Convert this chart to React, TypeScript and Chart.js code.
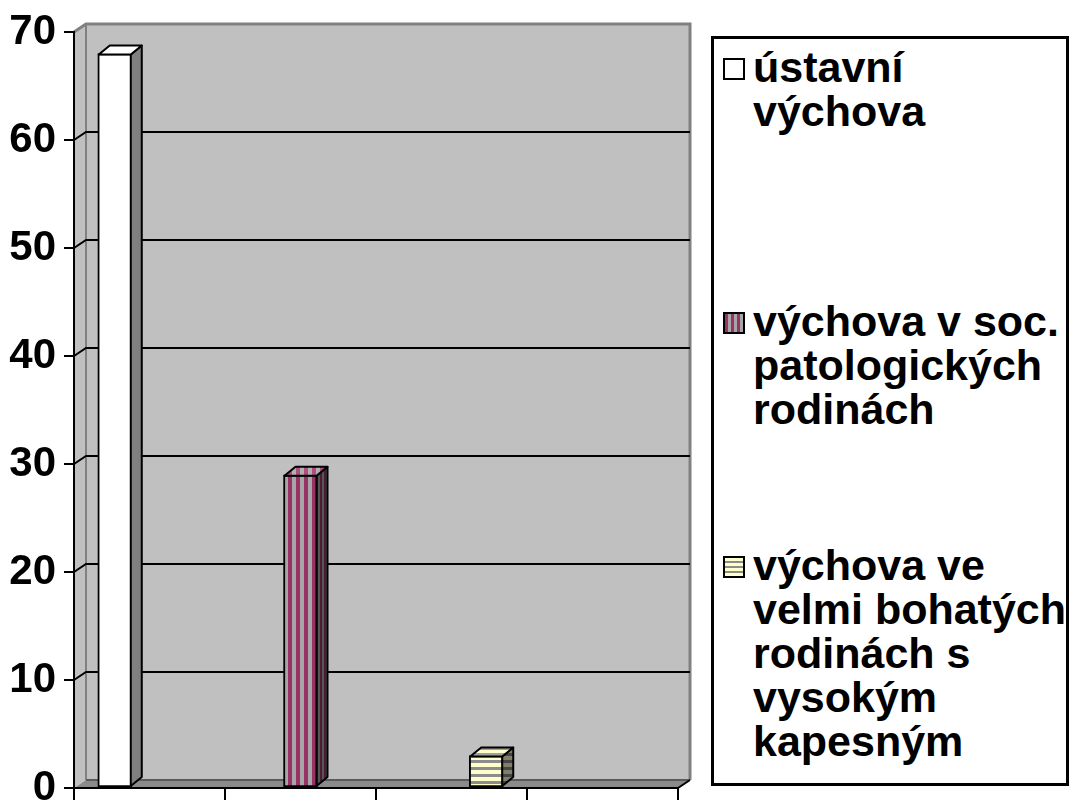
import React, { useEffect, useRef } from "react";
import { Chart, registerables } from "chart.js";

Chart.register(...registerables);

// ---- data ----
const seriesNames = [
  "ústavní výchova",
  "výchova v soc. patologických rodinách",
  "výchova ve velmi bohatých rodinách s vysokým kapesným",
];
const legendLines = [
  ["ústavní", "výchova"],
  ["výchova v soc.", "patologických", "rodinách"],
  ["výchova ve", "velmi bohatých", "rodinách s", "vysokým", "kapesným"],
];
const seriesValues = [68, 29, 3];
const seriesPositions = [0.27, 1.5, 2.73];
const yTickValues = [0, 10, 20, 30, 40, 50, 60, 70];
const xBoundaries = [0, 1, 2, 3, 4];

// ---- styling constants ----
const WALL_DX = 12;
const WALL_DY = 8;
const BAR_DX = 11;
const BAR_DY = 9;
const FONT = '"Liberation Sans", Arial, Helvetica, sans-serif';

function stripePattern(vertical: boolean, c1: string, c2: string, a: number, b: number) {
  const size = a + b;
  const cv = document.createElement("canvas");
  cv.width = vertical ? size : 1;
  cv.height = vertical ? 1 : size;
  const c = cv.getContext("2d")!;
  c.fillStyle = c1;
  if (vertical) c.fillRect(0, 0, a, 1);
  else c.fillRect(0, 0, 1, a);
  c.fillStyle = c2;
  if (vertical) c.fillRect(a, 0, b, 1);
  else c.fillRect(0, a, 1, b);
  return c.createPattern(cv, "repeat")!;
}

const threeDPlugin = {
  id: "threeD",
  beforeDraw(chart: any) {
    const { ctx, chartArea } = chart;
    const { left, right, top, bottom } = chartArea;
    const ys = chart.scales.y;
    ctx.save();
    ctx.fillStyle = "#c0c0c0";
    ctx.fillRect(left + WALL_DX, top - WALL_DY, right - left, bottom - top);
    ctx.beginPath();
    ctx.moveTo(left, top);
    ctx.lineTo(left + WALL_DX, top - WALL_DY);
    ctx.lineTo(left + WALL_DX, bottom - WALL_DY);
    ctx.lineTo(left, bottom);
    ctx.closePath();
    ctx.fill();
    ctx.fillStyle = "#8a8a8a";
    ctx.beginPath();
    ctx.moveTo(left, bottom);
    ctx.lineTo(left + WALL_DX, bottom - WALL_DY);
    ctx.lineTo(right + WALL_DX, bottom - WALL_DY);
    ctx.lineTo(right, bottom);
    ctx.closePath();
    ctx.fill();
    ctx.strokeStyle = "#808080";
    ctx.lineWidth = 3;
    ctx.beginPath();
    ctx.moveTo(left, top);
    ctx.lineTo(left + WALL_DX, top - WALL_DY);
    ctx.lineTo(right + WALL_DX, top - WALL_DY);
    ctx.lineTo(right + WALL_DX, bottom - WALL_DY);
    ctx.stroke();
    ctx.lineWidth = 2;
    ctx.beginPath();
    ctx.moveTo(left + WALL_DX, top - WALL_DY);
    ctx.lineTo(left + WALL_DX, bottom - WALL_DY);
    ctx.stroke();
    ctx.strokeStyle = "#5a5a5a";
    ctx.beginPath();
    ctx.moveTo(left + WALL_DX, bottom - WALL_DY);
    ctx.lineTo(right + WALL_DX, bottom - WALL_DY);
    ctx.stroke();
    ctx.strokeStyle = "#000";
    ctx.lineWidth = 2;
    yTickValues.forEach((v) => {
      if (v <= ys.min || v >= ys.max) return;
      const py = Math.round(ys.getPixelForValue(v));
      ctx.beginPath();
      ctx.moveTo(left, py);
      ctx.lineTo(left + WALL_DX, py - WALL_DY);
      ctx.lineTo(right + WALL_DX, py - WALL_DY);
      ctx.stroke();
    });
    ctx.beginPath();
    ctx.moveTo(right, bottom);
    ctx.lineTo(right + WALL_DX, bottom - WALL_DY);
    ctx.stroke();
    ctx.restore();
  },
  afterDatasetsDraw(chart: any) {
    const { ctx } = chart;
    chart.data.datasets.forEach((ds: any, i: number) => {
      const meta = chart.getDatasetMeta(i);
      meta.data.forEach((el: any) => {
        const { x, y, base, width } = el.getProps(["x", "y", "base", "width"], true);
        const l = x - width / 2 + 1;
        const r = x + width / 2 - 1;
        const t = y + 1;
        const b = base - 1;
        ctx.save();
        ctx.lineWidth = 2;
        ctx.strokeStyle = "#000";
        ctx.lineJoin = "round";
        ctx.beginPath();
        ctx.moveTo(r, t);
        ctx.lineTo(r + BAR_DX, t - BAR_DY);
        ctx.lineTo(r + BAR_DX, b - BAR_DY);
        ctx.lineTo(r, b);
        ctx.closePath();
        ctx.fillStyle = ds.sideFill;
        ctx.fill();
        ctx.stroke();
        ctx.beginPath();
        ctx.moveTo(l, t);
        ctx.lineTo(l + BAR_DX, t - BAR_DY);
        ctx.lineTo(r + BAR_DX, t - BAR_DY);
        ctx.lineTo(r, t);
        ctx.closePath();
        ctx.fillStyle = ds.topFill;
        ctx.fill();
        ctx.stroke();
        ctx.restore();
      });
    });
  },
};

function LegendIcon({ idx }: { idx: number }) {
  const bgs = [
    "#ffffff",
    "repeating-linear-gradient(90deg, #993366 0px, #993366 3px, #a6a6a6 3px, #a6a6a6 6px)",
    "repeating-linear-gradient(180deg, #ffffcc 0px, #ffffcc 3px, #8c8c8c 3px, #8c8c8c 5px)",
  ];
  return (
    <div
      style={{
        position: "absolute",
        left: 0,
        top: 0,
        width: 22,
        height: 22,
        boxSizing: "border-box",
        border: "2px solid #000",
        background: bgs[idx],
      }}
    />
  );
}

const legendBaselines = [82, 336, 580];
const LINE_H = 44;
const LEGEND_FONT_SIZE = 43;

export default function App() {
  const canvasRef = useRef<HTMLCanvasElement | null>(null);

  useEffect(() => {
    document.body.style.margin = "0";
    const canvas = canvasRef.current!;
    const fronts = [
      "#ffffff",
      stripePattern(true, "#993366", "#a6a6a6", 4, 4),
      stripePattern(false, "#ffffcc", "#8c8c8c", 4, 3),
    ];
    const tops = [
      "#ffffff",
      stripePattern(true, "#b24d80", "#b0b0b0", 4, 4),
      stripePattern(false, "#ffffcc", "#a0a0a0", 3, 3),
    ];
    const sides = [
      "#808080",
      stripePattern(true, "#4d1a33", "#555555", 2, 2),
      stripePattern(false, "#80806a", "#454545", 4, 3),
    ];
    const chart = new Chart(canvas, {
      type: "bar",
      data: {
        datasets: seriesNames.map((name, i) => ({
          label: name,
          data: [{ x: seriesPositions[i], y: seriesValues[i] }],
          backgroundColor: fronts[i] as any,
          borderColor: "#000",
          borderWidth: 2,
          borderSkipped: false,
          barThickness: 34,
          grouped: false,
          topFill: tops[i],
          sideFill: sides[i],
        })) as any,
      },
      options: {
        animation: false,
        responsive: false,
        events: [],
        layout: { padding: { top: 32, right: 395, left: 0, bottom: 0 } },
        plugins: { legend: { display: false }, tooltip: { enabled: false } },
        scales: {
          x: {
            type: "linear",
            offset: false,
            min: xBoundaries[0],
            max: xBoundaries[xBoundaries.length - 1],
            ticks: { stepSize: 1, display: false },
            grid: {
              offset: false,
              drawOnChartArea: false,
              drawTicks: true,
              tickLength: 12,
              color: "#000",
              lineWidth: 2,
            },
            border: { display: true, color: "#000", width: 2 },
            afterFit(s: any) {
              s.height = 13;
              s.paddingLeft = 0;
              s.paddingRight = 0;
            },
          },
          y: {
            min: yTickValues[0],
            max: yTickValues[yTickValues.length - 1],
            ticks: {
              stepSize: 10,
              color: "#000",
              padding: 8,
              font: { family: FONT, size: 42, weight: "bold" },
            },
            grid: {
              drawOnChartArea: false,
              drawTicks: true,
              tickLength: 10,
              color: "#000",
              lineWidth: 2,
            },
            border: { display: true, color: "#000", width: 2 },
            afterFit(s: any) {
              s.width = 74;
              s.paddingTop = 0;
              s.paddingBottom = 0;
            },
          },
        },
      },
      plugins: [threeDPlugin as any],
    });
    return () => chart.destroy();
  }, []);

  return (
    <div
      style={{
        position: "relative",
        width: 1073,
        height: 801,
        overflow: "hidden",
        background: "#fff",
      }}
    >
      <canvas ref={canvasRef} width={1073} height={801} style={{ display: "block" }} />
      <div
        style={{
          position: "absolute",
          left: 711,
          top: 36,
          width: 358,
          height: 750,
          boxSizing: "border-box",
          border: "3px solid #000",
          background: "#fff",
        }}
      />
      {legendLines.map((lines, idx) => (
        <div key={idx}>
          <div
            style={{
              position: "absolute",
              left: 723,
              top: legendBaselines[idx] - 24,
              width: 22,
              height: 22,
            }}
          >
            <LegendIcon idx={idx} />
          </div>
          <div
            style={{
              position: "absolute",
              left: 753,
              top: legendBaselines[idx] - 37,
              fontFamily: FONT,
              fontWeight: "bold",
              fontSize: LEGEND_FONT_SIZE,
              lineHeight: LINE_H + "px",
              color: "#000",
              whiteSpace: "nowrap",
            }}
          >
            {lines.map((ln, j) => (
              <div key={j}>{ln}</div>
            ))}
          </div>
        </div>
      ))}
    </div>
  );
}
